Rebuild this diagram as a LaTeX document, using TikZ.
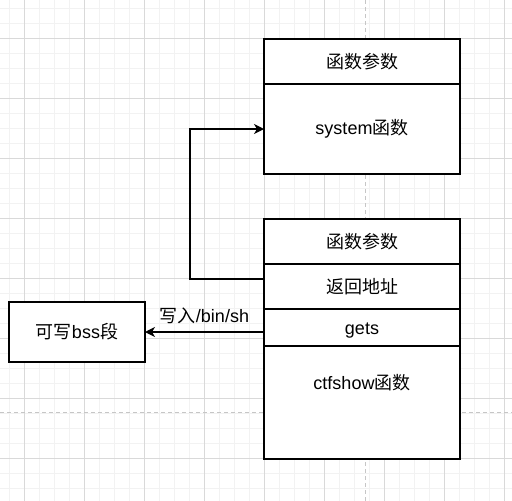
\documentclass[tikz,border=0pt]{standalone}
\usepackage{fontspec}
\setmainfont{Liberation Sans}
\newfontfamily\cjk{Noto Sans CJK SC}
\usepackage{tikz}
\usetikzlibrary{arrows.meta,positioning}

\begin{document}
\begin{tikzpicture}[x=1pt,y=-1pt]
	\tikzstyle{cell}=[rectangle,draw,fill=white,line width=1.3pt,minimum width=196pt,inner sep=0pt,outer sep=0pt,font=\fontsize{18}{21}\selectfont]
	\tikzstyle{link}=[line width=1.3pt,-{Stealth[length=10pt,width=10pt,inset=3pt]}]
	\useasboundingbox (0,0) rectangle (512,501);
	% grid
	\foreach \x in {9,24,...,504} \draw[line width=0.9pt,gray!10] (\x,0) -- (\x,501);
	\foreach \y in {8,23,...,498} \draw[line width=0.9pt,gray!10] (0,\y) -- (512,\y);
	\foreach \x in {24,84,...,504} \draw[line width=0.9pt,gray!30] (\x,0) -- (\x,501);
	\foreach \y in {38,98,...,458} \draw[line width=0.9pt,gray!30] (0,\y) -- (512,\y);
	\draw[line width=0.9pt,gray!45,dash pattern=on 4pt off 3pt] (365,0) -- (365,501);
	\draw[line width=0.9pt,gray!45,dash pattern=on 4pt off 3pt] (0,412.5) -- (512,412.5);
	% system frame
	\node[cell,minimum height=45pt] (args1) at (362,61.5) {{\cjk 函数参数}};
	\node[cell,minimum height=90pt,below=0pt of args1] (sysfn) {system{\cjk 函数}};
	% ctfshow frame
	\node[cell,minimum height=45pt] (args2) at (362,241.5) {{\cjk 函数参数}};
	\node[cell,minimum height=45pt,below=0pt of args2] (retaddr) {{\cjk 返回地址}};
	\node[cell,minimum height=37pt,text height=15.8pt,text depth=2.2pt,below=0pt of retaddr] (gets) {gets};
	\node[cell,minimum height=113pt,text height=43.5pt,text depth=69.5pt,below=0pt of gets] (ctfshow) {ctfshow{\cjk 函数}};
	% bss
	\node[cell,minimum width=136pt,minimum height=60pt] (bss) at (77,332) {{\cjk 可写}bss{\cjk 段}};
	\draw[link] ([yshift=7.5pt]retaddr.west) -- ++(-74,0) |- (sysfn.west);
	\draw[link] (gets.west |- bss.east) -- (bss.east) node[midway,yshift=16pt,font=\fontsize{18}{21}\selectfont] {{\cjk 写入}/bin/sh};
\end{tikzpicture}
\end{document}
